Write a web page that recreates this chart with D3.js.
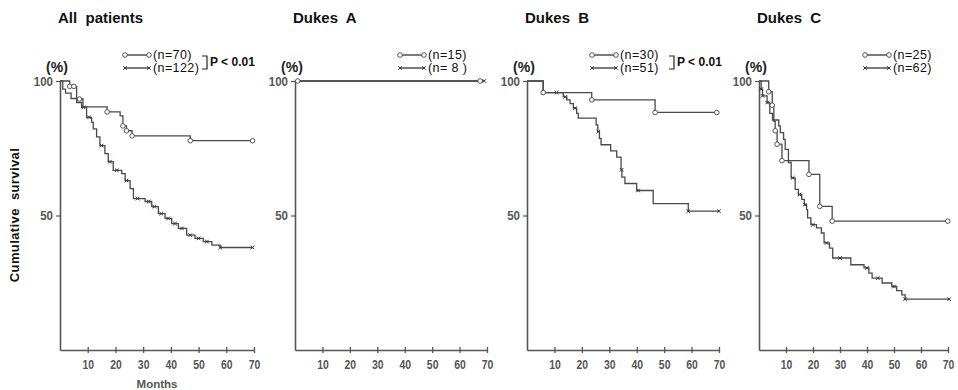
<!DOCTYPE html>
<html>
<head>
<meta charset="utf-8">
<script src="https://cdn.jsdelivr.net/npm/d3@7"></script>
<style>
  body { margin: 0; background: #fff; }
  svg text { font-family: "Liberation Sans", Arial, sans-serif; }
  .tick text { fill: #555; }
</style>
</head>
<body>
<div class="chart"></div>
<script>
// ---- data ----
const panelTitles = ["All  patients", "Dukes  A", "Dukes  B", "Dukes  C"];
const xTicks = [10, 20, 30, 40, 50, 60, 70];
const yTicks = [50, 100];
const nCircle = [70, 15, 30, 25];
const nCross = [122, 8, 51, 62];
const pLabels = ["P < 0.01", "", "P < 0.01", ""];

// survival steps: [month, % surviving from that month on]
const allCircle = [[0,100],[3.5,98],[6,93.3],[8.3,90.4],[17,88.5],[21.7,87],[22.7,83.3],[24,81.5],[26,79.6],[47,77.8]];
const allCross = [[0,100],[1,97],[2,95.5],[4,93.5],[6,92],[7.8,90.2],[9.6,86.5],[11.4,84.7],[12,82.2],[13.2,79.2],
  [14.4,76],[16.2,73],[17.4,70],[19.2,66.8],[22.3,65.6],[23.5,63],[25.3,60],[26.5,56.3],[30.7,55.2],[33.1,53.3],
  [35.5,50.7],[37.9,48.9],[40.3,47],[42.7,45.2],[45.7,42.7],[48.7,41.5],[51.7,40.3],[54.8,39],[57.8,38.1]];
const aCircle = [[0,100]];
const aCross = [[0,100]];
const bCircle = [[0,100],[5.9,95.7],[23.6,93],[46.7,88.3]];
const bCross = [[0,100],[5.9,95.7],[13.2,94.1],[14.5,93],[15.7,91.6],[16.9,89.9],[18.1,88],[18.7,86.2],[25.2,83.7],
  [25.8,81.2],[26.4,78.7],[27,76.3],[30.5,74],[32.7,71.7],[34.3,67],[34.6,64.3],[35.7,61.9],[40,59.3],[46,54.4],[58.8,51.6]];
const cCircle = [[0,100],[3.6,96],[4.9,91],[5.5,85],[6,81.5],[6.7,76.5],[8.5,70.4],[18.5,65.3],[22.5,53.4],[27.1,47.9]];
const cCross = [[0,100],[0.8,97],[1.3,94.5],[3,92],[4,88],[5,85.5],[7.3,83.3],[7.9,80.8],[9.1,78.3],[9.7,74.6],
  [10.9,69.7],[11.9,64],[13.4,59.7],[14.6,57.8],[15.8,56],[16.8,54],[17.6,52.2],[18,49.1],[19.2,46.6],[21.3,45.4],
  [23.1,43.5],[24.1,39.8],[26.1,37.9],[27.3,34.2],[34,31.7],[38.9,30.5],[40.7,28.6],[41.9,26.7],[45.6,24.9],
  [49.2,23.6],[51,22.1],[52.9,20.5],[54.1,18.9]];

// last follow-up month of each curve
const circleEnd = [69.5, 67.5, 69.2, 69.9];
const crossEnd = [69.5, 69, 70, 70.4];

// censored months (markers)
const circleCens = [[3.5,5,7,17,22.7,24,26,47,69.5],[1,67.5],[5.9,23.6,46.7,69.2],[3.6,4.9,6,6.7,8.5,18.5,22.5,27.1,69.9]];
const crossCens = [[8.5,10.5,15,18,20.5,24,28,32,34,36.5,39,41.5,44,47,50,53,57.8,69.5],[69],
  [10.8,14,17.5,26,34.5,40.5,58.8,70],[0.8,1.3,3,12.5,15,17,20,25,30,40,44,50,54.1,70.4]];

const circleSteps = [allCircle, aCircle, bCircle, cCircle];
const crossSteps = [allCross, aCross, bCross, cCross];

// ---- layout ----
const W = 958, H = 390;
const panelX = [60, 295, 527, 759];
const plotW = [194, 192, 192, 189];
const legendDx = [65, 105, 65, 106];
const yTop = 81, yBot = 350;
const ink = "#555";

const svg = d3.select(".chart").append("svg")
  .attr("width", W).attr("height", H);

function valueAt(steps, t){
  let v = steps[0][1];
  steps.forEach(s => { if (s[0] <= t) v = s[1]; });
  return v;
}

function drawCircle(g, x, y){
  g.append("circle").attr("cx", x).attr("cy", y).attr("r", 2.3)
    .attr("fill", "#fff").attr("stroke", ink).attr("stroke-width", 1);
}
function drawCross(g, x, y){
  const r = 1.8;
  g.append("path")
    .attr("d", `M${x-r},${y-r}L${x+r},${y+r}M${x-r},${y+r}L${x+r},${y-r}`)
    .attr("stroke", "#333").attr("stroke-width", 1);
}

// squeeze tick numbers to look like the narrow print face
function narrow(sel, perChar){
  sel.each(function(){
    const t = d3.select(this);
    t.attr("textLength", t.text().length * perChar).attr("lengthAdjust", "spacingAndGlyphs");
  });
}

panelX.forEach((x0, i) => {
  const x = d3.scaleLinear().domain([0, 70]).range([x0, x0 + plotW[i]]);
  const y = d3.scaleLinear().domain([0, 100]).range([yBot, yTop]);
  const g = svg.append("g");

  // title
  g.append("text").attr("x", x0 - 2).attr("y", 23)
    .attr("font-size", 15).attr("font-weight", "bold").attr("fill", "#111")
    .style("white-space", "pre").text(panelTitles[i]);

  // (%)
  g.append("text").attr("x", x0 - 3).attr("y", 72).attr("text-anchor", "middle")
    .attr("font-size", 14).attr("font-weight", "bold").attr("fill", "#222").text("(%)");

  // axes
  const xAxis = d3.axisBottom(x).tickValues(xTicks).tickSize(3).tickSizeOuter(0).tickPadding(6);
  const gx = g.append("g").attr("transform", `translate(0,${yBot})`).call(xAxis);
  gx.selectAll(".tick line").attr("y1", -3).attr("stroke", ink).attr("stroke-width", 1.3);
  gx.select(".domain").attr("stroke", ink).attr("stroke-width", 1.6);
  gx.selectAll(".tick text").attr("font-size", 13.5).attr("font-weight", "bold").call(narrow, 5.8);

  const yAxis = d3.axisLeft(y).tickValues(yTicks).tickSize(4).tickSizeOuter(0).tickPadding(3);
  const gy = g.append("g").attr("transform", `translate(${x0},0)`).call(yAxis);
  gy.select(".domain").attr("stroke", ink).attr("stroke-width", 1.6);
  gy.selectAll(".tick line").attr("stroke", ink).attr("stroke-width", 1.2);
  gy.selectAll(".tick text").attr("font-size", 13).attr("font-weight", "bold").call(narrow, 6.4);

  // curves
  const line = d3.line().curve(d3.curveStepAfter)
    .x(d => x(d[0])).y(d => y(d[1]));

  const curves = [
    {steps: crossSteps[i], end: crossEnd[i], cens: crossCens[i], mark: drawCross},
    {steps: circleSteps[i], end: circleEnd[i], cens: circleCens[i], mark: drawCircle}
  ];
  curves.forEach(c => {
    const pts = c.steps.concat([[c.end, c.steps[c.steps.length - 1][1]]]);
    g.append("path").datum(pts)
      .attr("fill", "none").attr("stroke", "#4a4a4a").attr("stroke-width", 1.3)
      .attr("d", line);
    c.cens.forEach(t => c.mark(g, x(t), y(valueAt(c.steps, t))));
  });

  // legend
  const lx = x0 + legendDx[i];
  const rows = [
    {yy: 55, n: nCircle[i], mark: drawCircle},
    {yy: 68, n: nCross[i], mark: drawCross}
  ];
  rows.forEach(r => {
    g.append("line").attr("x1", lx).attr("x2", lx + 24).attr("y1", r.yy).attr("y2", r.yy)
      .attr("stroke", "#333").attr("stroke-width", 1.3);
    r.mark(g, lx, r.yy);
    r.mark(g, lx + 24, r.yy);
    g.append("text").attr("x", lx + 28).attr("y", r.yy + 4)
      .attr("font-size", 12.5).attr("fill", "#111").attr("letter-spacing", 0.4)
      .text(`(n=${r.n < 10 ? " " + r.n + " " : r.n})`).style("white-space", "pre");
  });
  if (pLabels[i]) {
    const bx = lx + 77;
    g.append("path").attr("d", `M${bx},56H${bx+5}V69H${bx}`)
      .attr("fill", "none").attr("stroke", "#222").attr("stroke-width", 1.2);
    g.append("text").attr("x", bx + 8).attr("y", 66)
      .attr("font-size", 12).attr("font-weight", "bold").attr("fill", "#111")
      .style("white-space", "pre").text(pLabels[i]);
  }
});

// shared labels
svg.append("text")
  .attr("transform", "translate(19,215) rotate(-90)")
  .attr("text-anchor", "middle").attr("font-size", 13).attr("font-weight", "bold")
  .attr("letter-spacing", 0.4)
  .attr("fill", "#111").style("white-space", "pre").text("Cumulative  survival");

svg.append("text").attr("x", 157).attr("y", 388).attr("text-anchor", "middle")
  .attr("font-size", 11.5).attr("font-weight", "bold").attr("fill", "#555").text("Months");
</script>
</body>
</html>
